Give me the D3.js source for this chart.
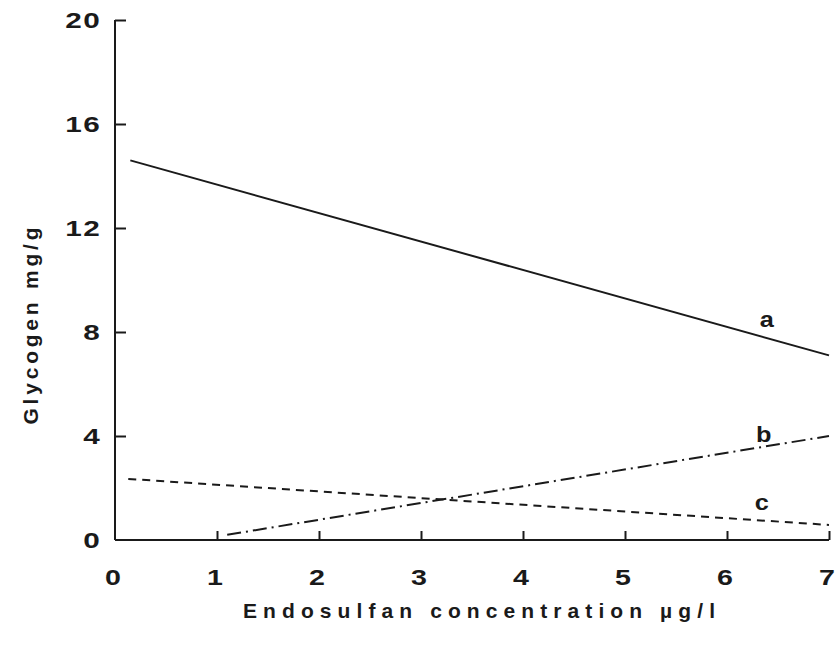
<!DOCTYPE html>
<html>
<head>
<meta charset="utf-8">
<script src="https://cdn.jsdelivr.net/npm/d3@7"></script>
<style>
  body { margin: 0; background: #fff; }
  text { font-family: 'Liberation Sans', Arial, sans-serif; fill: #1a1a1a; }
</style>
</head>
<body>
<svg id="chart" width="835" height="651"></svg>
<script>
// tick values
const xTicks = [0, 1, 2, 3, 4, 5, 6, 7]
const yTicks = [0, 4, 8, 12, 16, 20]

// regression lines (x = concentration, y = glycogen)
const lineA = [{x: 0.15, y: 14.6}, {x: 7.0, y: 7.1}]
const lineB = [{x: 1.1, y: 0.2}, {x: 7.0, y: 4.0}]
const lineC = [{x: 0.13, y: 2.35}, {x: 7.0, y: 0.58}]

const seriesNames = ['a', 'b', 'c']
const seriesData = [lineA, lineB, lineC]
const labelPos = [{x: 6.39, y: 8.2}, {x: 6.36, y: 3.77}, {x: 6.34, y: 1.15}]

const svg = d3.select('#chart')
const margin = {top: 20, right: 6, bottom: 111, left: 115}
const height = +svg.attr('height') - margin.top - margin.bottom
const g = svg.append('g').attr('transform', 'translate(' + margin.left + ',' + margin.top + ')')

const x = d3.scaleLinear().domain([0, 7]).range([0, 714])
const y = d3.scaleLinear().domain([0, 20]).range([height, 0])

// Y-axis, ticks pointing inward
const yAxis = g.append('g')
  .call(d3.axisRight(y).tickValues(yTicks).tickSize(11).tickFormat(''))
yAxis.select('.domain').attr('d', 'M0,' + height + 'V0').attr('stroke', '#1a1a1a').attr('stroke-width', 2)
yAxis.selectAll('.tick line').attr('stroke', '#1a1a1a').attr('stroke-width', 2)
yAxis.selectAll('.tick').filter(d => d === 0).remove()

// X-axis, ticks pointing upward
const xAxis = g.append('g')
  .attr('transform', 'translate(0,' + height + ')')
  .call(d3.axisTop(x).tickValues(xTicks).tickSize(9).tickFormat(''))
xAxis.select('.domain').attr('d', 'M0,0H' + x(7)).attr('stroke', '#1a1a1a').attr('stroke-width', 2)
xAxis.selectAll('.tick line').attr('stroke', '#1a1a1a').attr('stroke-width', 2)
xAxis.selectAll('.tick').filter(d => d === 0).select('line').remove()

// tick labels (the original type is a wide grotesque, so stretch horizontally)
g.append('g').selectAll('text')
  .data(yTicks)
  .enter().append('text')
  .attr('transform', d => 'translate(-14,' + (y(d) + 8) + ') scale(1.35,1)')
  .attr('text-anchor', 'end')
  .attr('font-size', 22)
  .attr('font-weight', 'bold')
  .attr('letter-spacing', 1)
  .text(d => d)

g.append('g').selectAll('text')
  .data(xTicks)
  .enter().append('text')
  .attr('transform', d => 'translate(' + (x(d) - 2) + ',' + (height + 45) + ') scale(1.3,1)')
  .attr('text-anchor', 'middle')
  .attr('font-size', 22)
  .attr('font-weight', 'bold')
  .text(d => d)

// axis titles
svg.append('text')
  .attr('transform', 'translate(38,326) rotate(-90)')
  .attr('text-anchor', 'middle')
  .attr('font-size', 21)
  .attr('font-weight', 'bold')
  .attr('textLength', 197)
  .attr('lengthAdjust', 'spacing')
  .text('Glycogen mg/g')

svg.append('text')
  .attr('x', 479)
  .attr('y', 618)
  .attr('text-anchor', 'middle')
  .attr('font-size', 21)
  .attr('font-weight', 'bold')
  .attr('textLength', 472)
  .attr('lengthAdjust', 'spacing')
  .text('Endosulfan concentration µg/l')

// lines
const line = d3.line().x(d => x(d.x)).y(d => y(d.y))
const dashes = [null, '14,5,2,5', '8,6']

g.append('g').selectAll('path')
  .data(seriesData)
  .enter().append('path')
  .attr('d', line)
  .attr('fill', 'none')
  .attr('stroke', '#1a1a1a')
  .attr('stroke-width', 2)
  .attr('stroke-dasharray', (d, i) => dashes[i])

// line labels
g.append('g').selectAll('text')
  .data(labelPos)
  .enter().append('text')
  .attr('transform', d => 'translate(' + x(d.x) + ',' + y(d.y) + ') scale(1.15,1)')
  .attr('text-anchor', 'middle')
  .attr('font-size', 22)
  .attr('font-weight', 'bold')
  .text((d, i) => seriesNames[i])
</script>
</body>
</html>
